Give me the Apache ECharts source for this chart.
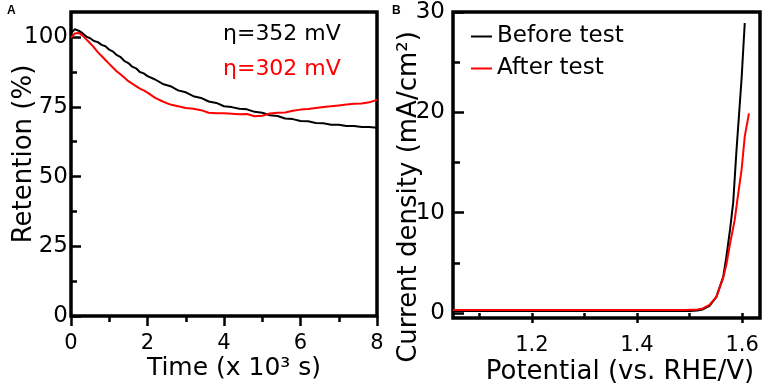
<!DOCTYPE html>
<html>
<head>
<meta charset="utf-8">
<script src="https://cdn.jsdelivr.net/npm/echarts@6/dist/echarts.min.js"></script>
<style>
html,body{margin:0;padding:0;background:#fff;}
#chart{width:765px;height:389px;}
</style>
</head>
<body>
<div id="chart"></div>
<script>
// ---- Panel A: retention vs time ----
var timeA = [0,0.1,0.2,0.3,0.4,0.5,0.6,0.7,0.8,0.9,1.0,1.1,1.2,1.3,1.4,1.5,1.6,1.7,1.8,1.9,2.0,2.2,2.4,2.6,2.8,3.0,3.2,3.4,3.6,3.8,4.0,4.2,4.4,4.6,4.8,5.0,5.2,5.4,5.6,5.8,6.0,6.2,6.4,6.6,6.8,7.0,7.2,7.4,7.6,7.8,8.0];
var retention352 = [101.5,102.8,102.3,101.4,100.2,99.6,98.6,98.2,97.2,96.7,95.5,94.8,93.5,92.8,91.4,90.7,89.4,88.8,87.5,87.0,86.0,84.8,83.2,82.4,80.9,80.2,78.8,78.2,76.9,76.4,75.2,74.9,74.3,74.1,73.2,72.9,72.0,71.7,70.8,70.6,69.9,69.8,69.2,69.1,68.6,68.6,68.1,68.1,67.8,67.8,67.5];
var retention302 = [99.8,101.3,101.5,100.6,99.2,97.8,96.3,94.6,93.2,91.8,90.4,89.0,87.7,86.6,85.4,84.2,83.3,82.4,81.5,80.9,80.1,78.2,76.9,75.8,75.2,74.6,74.3,73.8,72.9,72.7,72.7,72.5,72.3,72.4,71.6,71.8,72.6,72.9,73.0,73.6,74.0,74.2,74.6,74.9,75.2,75.5,75.8,76.1,76.2,76.6,77.5];
var ticksAY = [0,25,50,75,100];
var minorAY = [12.5,37.5,62.5,87.5];

// ---- Panel B: polarization curves ----
var potentialBefore = [1.05,1.50,1.515,1.525,1.538,1.551,1.564,1.570,1.577,1.583,1.589,1.599,1.605];
var currentBefore   = [0.2,0.2,0.25,0.35,0.7,1.6,3.6,5.6,8.3,11.0,16.0,23.4,28.9];
var potentialAfter  = [1.05,1.49,1.515,1.525,1.538,1.551,1.564,1.570,1.577,1.586,1.591,1.599,1.605,1.613];
var currentAfter    = [0.3,0.3,0.35,0.45,0.8,1.6,3.5,4.8,6.9,9.3,11.3,14.3,17.6,19.9];
var ticksBX = [1.2,1.4,1.6];
var minorBX = [1.1,1.3,1.5];
var ticksBY = [0,10,20,30];
var minorBY = [5,15,25];

function zip(xs, ys){ return xs.map(function(x,i){ return [x, ys[i]]; }); }

var FONT = 'DejaVu Sans';
var chart = echarts.init(document.getElementById('chart'), null, {renderer:'canvas'});

function tickAxisStyle(len, inside){
  return {show:true, inside:inside, length:len, lineStyle:{color:'#000', width:2.5}};
}

var option = {
  animation:false,
  backgroundColor:'#fff',
  textStyle:{fontFamily:FONT, color:'#000'},
  grid:[
    {left:71, top:12, width:306, height:304, show:true, borderColor:'#000', borderWidth:3.5, backgroundColor:'transparent', containLabel:false, outerBoundsMode:'none'},
    {left:453, top:12, width:307, height:306, show:true, borderColor:'#000', borderWidth:3.5, backgroundColor:'transparent', containLabel:false, outerBoundsMode:'none'}
  ],
  graphic:[
    {type:'text', left:7, top:5, style:{text:'A', font:'bold 12px "Liberation Sans"', fill:'#000'}},
    {type:'text', left:392, top:5, style:{text:'B', font:'bold 12px "Liberation Sans"', fill:'#000'}}
  ],
  legend:[
    {
      left:213, top:18, orient:'vertical', itemWidth:0, itemGap:13, icon:'none',
      textStyle:{fontFamily:FONT, fontSize:22},
      data:[
        {name:'η=352 mV', icon:'none', textStyle:{color:'#000'}},
        {name:'η=302 mV', icon:'none', textStyle:{color:'#ff0000'}}
      ]
    },
    {
      left:466, top:20, orient:'vertical', itemWidth:21, itemHeight:2, itemGap:9, icon:'rect',
      textStyle:{fontFamily:FONT, fontSize:23, color:'#000'},
      data:[{name:'Before test', icon:'rect'},{name:'After test', icon:'rect'}]
    }
  ],
  xAxis:[
    {
      gridIndex:0, type:'value', min:0, max:8, interval:2,
      axisLine:{show:false},
      axisTick:tickAxisStyle(10,false),
      minorTick:{show:true, splitNumber:2, length:6, lineStyle:{color:'#000', width:2.5}},
      splitLine:{show:false}, minorSplitLine:{show:false},
      axisLabel:{fontSize:21, margin:17, color:'#000', fontFamily:FONT},
      name:'Time (x 10³ s)', nameLocation:'middle', nameGap:40, nameMoveOverlap:false,
      nameTextStyle:{fontSize:25, color:'#000', fontFamily:FONT, padding:[0,0,0,20]}
    },
    {
      gridIndex:1, type:'value', min:1.05, max:1.634,
      axisLine:{show:false},
      axisTick:Object.assign(tickAxisStyle(10,false), {customValues:ticksBX}),
      splitLine:{show:false},
      axisLabel:{fontSize:21, margin:17, color:'#000', fontFamily:FONT, customValues:ticksBX,
        formatter:function(v){return v.toFixed(1);}},
      name:'Potential (vs. RHE/V)', nameLocation:'middle', nameGap:41, nameMoveOverlap:false,
      nameTextStyle:{fontSize:26, color:'#000', fontFamily:FONT, padding:[0,0,0,27]}
    },
    {
      gridIndex:1, type:'value', min:1.05, max:1.634, position:'bottom',
      axisLine:{show:false},
      axisTick:Object.assign(tickAxisStyle(6,false), {customValues:minorBX}),
      splitLine:{show:false},
      axisLabel:{show:false}
    }
  ],
  yAxis:[
    {
      gridIndex:0, type:'value', min:0, max:109, position:'left', offset:0,
      axisLine:{show:false},
      axisTick:Object.assign(tickAxisStyle(10,true), {customValues:ticksAY}),
      splitLine:{show:false},
      axisLabel:{fontSize:23, margin:3, color:'#000', fontFamily:FONT, customValues:ticksAY},
      name:'Retention (%)', nameLocation:'middle', nameGap:34, nameMoveOverlap:false,
      nameTextStyle:{fontSize:26, color:'#000', fontFamily:FONT, padding:[0,0,0,20]}
    },
    {
      gridIndex:0, type:'value', min:0, max:109, position:'left', offset:0,
      axisLine:{show:false},
      axisTick:Object.assign(tickAxisStyle(6,true), {customValues:minorAY}),
      splitLine:{show:false},
      axisLabel:{show:false}
    },
    {
      gridIndex:1, type:'value', min:-0.5, max:30, position:'left', offset:0,
      axisLine:{show:false},
      axisTick:Object.assign(tickAxisStyle(11,true), {customValues:ticksBY}),
      splitLine:{show:false},
      axisLabel:{fontSize:23, margin:8, color:'#000', fontFamily:FONT, customValues:ticksBY},
      name:'Current density (mA/cm²)', nameLocation:'middle', nameGap:31, nameMoveOverlap:false,
      nameTextStyle:{fontSize:26, color:'#000', fontFamily:FONT, padding:[0,64,0,0]}
    },
    {
      gridIndex:1, type:'value', min:-0.5, max:30, position:'left', offset:0,
      axisLine:{show:false},
      axisTick:Object.assign(tickAxisStyle(7,true), {customValues:minorBY}),
      splitLine:{show:false},
      axisLabel:{show:false}
    }
  ],
  series:[
    {name:'η=352 mV', type:'line', xAxisIndex:0, yAxisIndex:0, symbol:'none', showSymbol:false,
      lineStyle:{color:'#000', width:2}, itemStyle:{color:'#000'}, data:zip(timeA, retention352)},
    {name:'η=302 mV', type:'line', xAxisIndex:0, yAxisIndex:0, symbol:'none', showSymbol:false,
      lineStyle:{color:'#ff0000', width:2}, itemStyle:{color:'#ff0000'}, data:zip(timeA, retention302)},
    {name:'Before test', type:'line', xAxisIndex:1, yAxisIndex:2, symbol:'none', showSymbol:false,
      lineStyle:{color:'#000', width:2}, itemStyle:{color:'#000'}, data:zip(potentialBefore, currentBefore)},
    {name:'After test', type:'line', xAxisIndex:1, yAxisIndex:2, symbol:'none', showSymbol:false,
      lineStyle:{color:'#ff0000', width:2}, itemStyle:{color:'#ff0000'}, data:zip(potentialAfter, currentAfter)}
  ]
};
chart.setOption(option);
</script>
</body>
</html>
